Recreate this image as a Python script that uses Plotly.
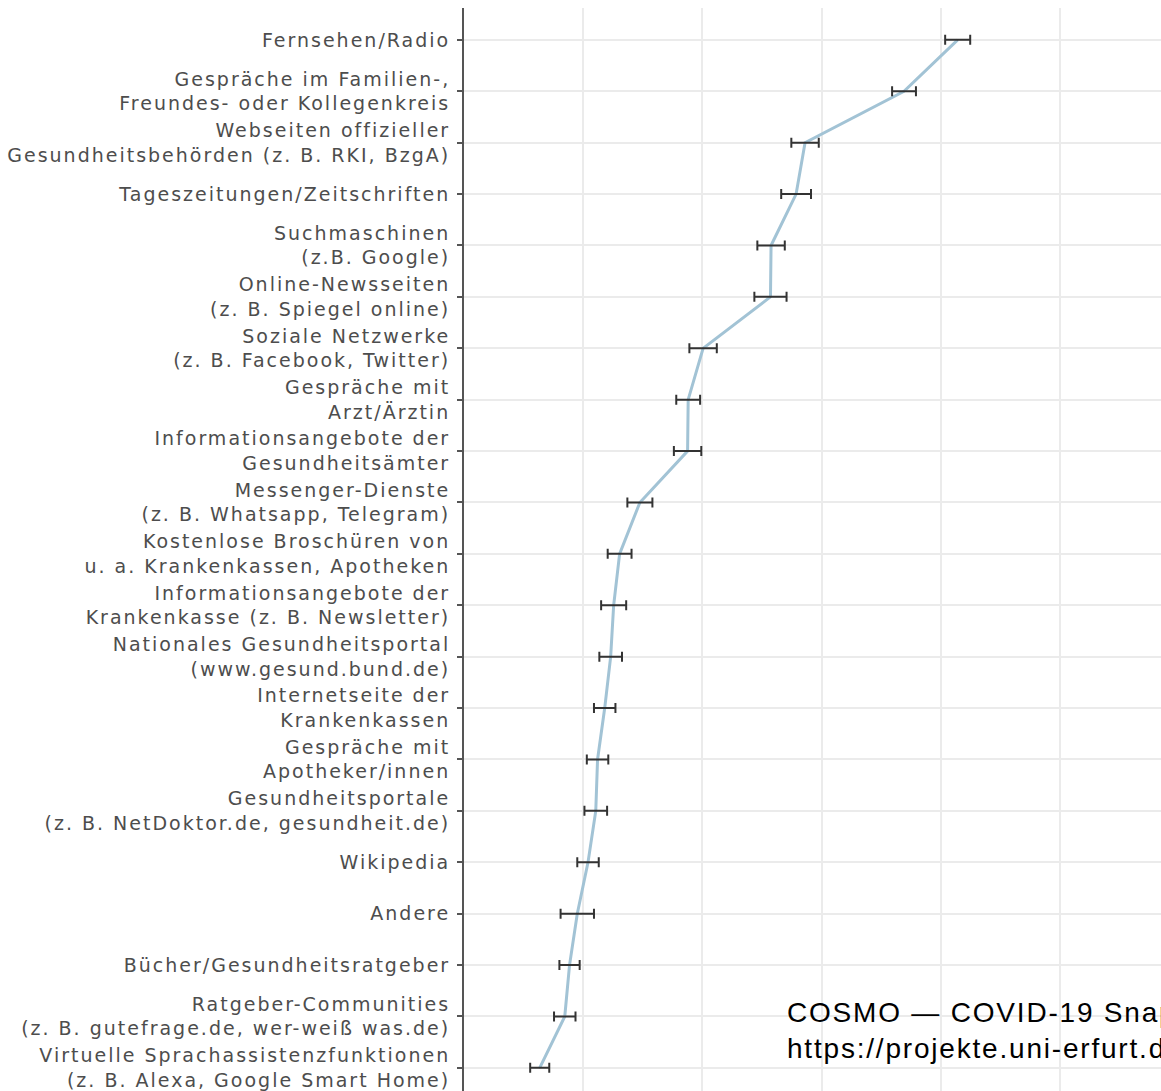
import plotly.graph_objects as go

# Information sources (top to bottom)
categories = [
    "Fernsehen/Radio",
    "Gespräche im Familien-,<br>Freundes- oder Kollegenkreis",
    "Webseiten offizieller<br>Gesundheitsbehörden (z. B. RKI, BzgA)",
    "Tageszeitungen/Zeitschriften",
    "Suchmaschinen<br>(z.B. Google)",
    "Online-Newsseiten<br>(z. B. Spiegel online)",
    "Soziale Netzwerke<br>(z. B. Facebook, Twitter)",
    "Gespräche mit<br>Arzt/Ärztin",
    "Informationsangebote der<br>Gesundheitsämter",
    "Messenger-Dienste<br>(z. B. Whatsapp, Telegram)",
    "Kostenlose Broschüren von<br>u. a. Krankenkassen, Apotheken",
    "Informationsangebote der<br>Krankenkasse (z. B. Newsletter)",
    "Nationales Gesundheitsportal<br>(www.gesund.bund.de)",
    "Internetseite der<br>Krankenkassen",
    "Gespräche mit<br>Apotheker/innen",
    "Gesundheitsportale<br>(z. B. NetDoktor.de, gesundheit.de)",
    "Wikipedia",
    "Andere",
    "Bücher/Gesundheitsratgeber",
    "Ratgeber-Communities<br>(z. B. gutefrage.de, wer-weiß was.de)",
    "Virtuelle Sprachassistenzfunktionen<br>(z. B. Alexa, Google Smart Home)",
]

# Share of respondents using each source (%) and 95% CI half-width
share = [82.8, 73.8, 57.2, 55.7, 51.5, 51.4, 40.1, 37.6, 37.5, 29.5, 26.1,
         25.1, 24.6, 23.6, 22.4, 22.1, 20.8, 19.0, 17.7, 16.9, 12.7]
ci_half = [2.1, 2.0, 2.3, 2.5, 2.3, 2.7, 2.3, 2.0, 2.3, 2.1, 2.0,
           2.1, 1.9, 1.8, 1.8, 1.9, 1.8, 2.8, 1.7, 1.8, 1.6]

source_note = ["COSMO — COVID-19 Snapshot Monitoring",
               "https://projekte.uni-erfurt.de/cosmo2020/"]

fig = go.Figure()

# connecting line
fig.add_trace(go.Scatter(
    x=share, y=categories, mode="lines",
    line=dict(color="#a2c3d5", width=3),
    hoverinfo="skip", showlegend=False,
))

# confidence intervals
fig.add_trace(go.Scatter(
    x=share, y=categories, mode="markers",
    marker=dict(size=1, color="#333333"),
    error_x=dict(type="data", array=ci_half, color="#333333",
                 thickness=2, width=5),
    showlegend=False,
))

fig.update_layout(
    width=1161, height=1091,
    margin=dict(l=464, r=0, t=8, b=0),
    paper_bgcolor="white", plot_bgcolor="white",
    font=dict(family="DejaVu Sans", color="#4d4d4d"),
    xaxis=dict(
        range=[0, 116.9], tick0=0, dtick=20,
        showgrid=True, gridcolor="#ebebeb", gridwidth=1.5,
        zeroline=False, showline=False, showticklabels=False, ticks="",
    ),
    yaxis=dict(
        type="category", categoryorder="array", categoryarray=categories,
        range=[20.45, -0.62],
        showgrid=True, gridcolor="#ebebeb", gridwidth=1.5,
        zeroline=False,
        showline=True, linecolor="#555555", linewidth=2,
        ticks="outside", ticklen=5, tickcolor="#555555", tickwidth=1.5,
        tickfont=dict(family="DejaVu Sans", size=19, color="#4d4d4d"),
        ticklabelstandoff=3,
    ),
    annotations=[dict(
        text="<br>".join(source_note),
        xref="paper", yref="paper", x=0.4605, y=0.0563,
        xanchor="left", yanchor="middle", align="left", showarrow=False,
        font=dict(family="Liberation Sans", size=28, color="black"),
    )],
)

# widen the letter spacing of the category labels and the source note
spacing_js = """
var gd = document.getElementById('{plot_id}');
function spreadText() {
  gd.querySelectorAll('.ytick text').forEach(function (t) {
    t.style.letterSpacing = '2px';
  });
  gd.querySelectorAll('.annotation-text').forEach(function (t) {
    t.style.letterSpacing = '1.8px';
  });
}
spreadText();
gd.on('plotly_afterplot', spreadText);
"""

fig.write_html("out.html", post_script=spacing_js)
